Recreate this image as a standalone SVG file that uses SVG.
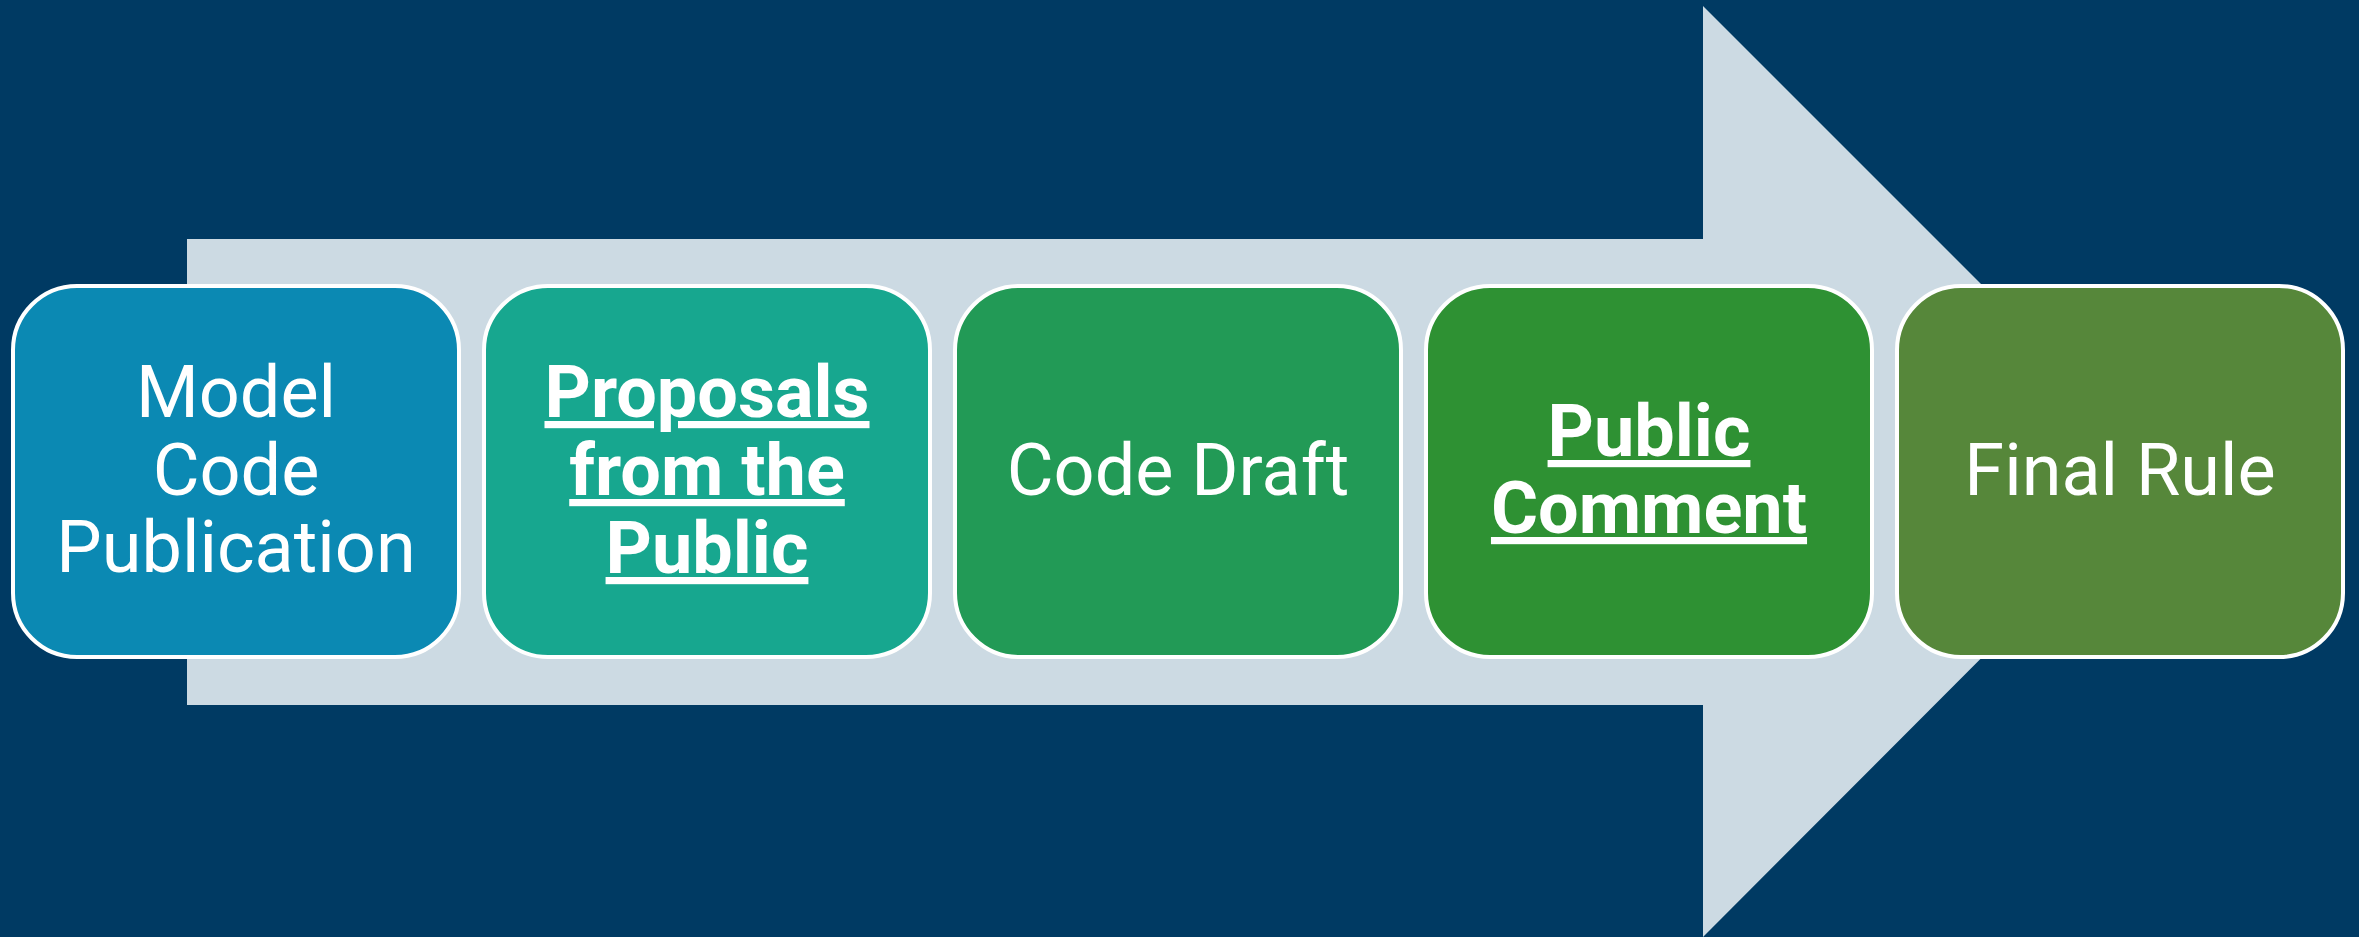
<svg xmlns="http://www.w3.org/2000/svg" width="2359" height="937" viewBox="0 0 2359 937">
  <style>
    .box { stroke: #ffffff; stroke-width: 4; }
    .lbl { font-family: Roboto, "Liberation Sans", sans-serif; font-size: 72px; fill: #ffffff; text-anchor: middle; }
    .bold { font-weight: bold; text-decoration: underline; }
  </style>
  <!-- background -->
  <rect x="0" y="0" width="2359" height="937" fill="#003A63"/>
  <!-- big process arrow behind the steps -->
  <g id="connectors">
    <path d="M187 239 H1703 V6 L2168 471 L1703 937 V705 H187 Z" fill="#CCDAE3"/>
  </g>
  <g id="step-model-code">
    <rect class="box" x="13" y="286" width="446" height="371" rx="64" fill="#0B89B3"/>
    <text class="lbl" x="236" y="417">Model</text>
    <text class="lbl" x="236" y="495">Code</text>
    <text class="lbl" x="236" y="572">Publication</text>
  </g>
  <g id="step-proposals">
    <rect class="box" x="484" y="286" width="446" height="371" rx="64" fill="#17A78F"/>
    <text class="lbl bold" x="707" y="417">Proposals</text>
    <text class="lbl bold" x="707" y="495">from the</text>
    <text class="lbl bold" x="707" y="573">Public</text>
  </g>
  <g id="step-code-draft">
    <rect class="box" x="955" y="286" width="446" height="371" rx="64" fill="#229A56"/>
    <text class="lbl" x="1178" y="495">Code Draft</text>
  </g>
  <g id="step-public-comment">
    <rect class="box" x="1426" y="286" width="446" height="371" rx="64" fill="#2E9133"/>
    <text class="lbl bold" x="1649" y="456">Public</text>
    <text class="lbl bold" x="1649" y="533">Comment</text>
  </g>
  <g id="step-final-rule">
    <rect class="box" x="1897" y="286" width="446" height="371" rx="64" fill="#56873A"/>
    <text class="lbl" x="2120" y="495">Final Rule</text>
  </g>
</svg>
